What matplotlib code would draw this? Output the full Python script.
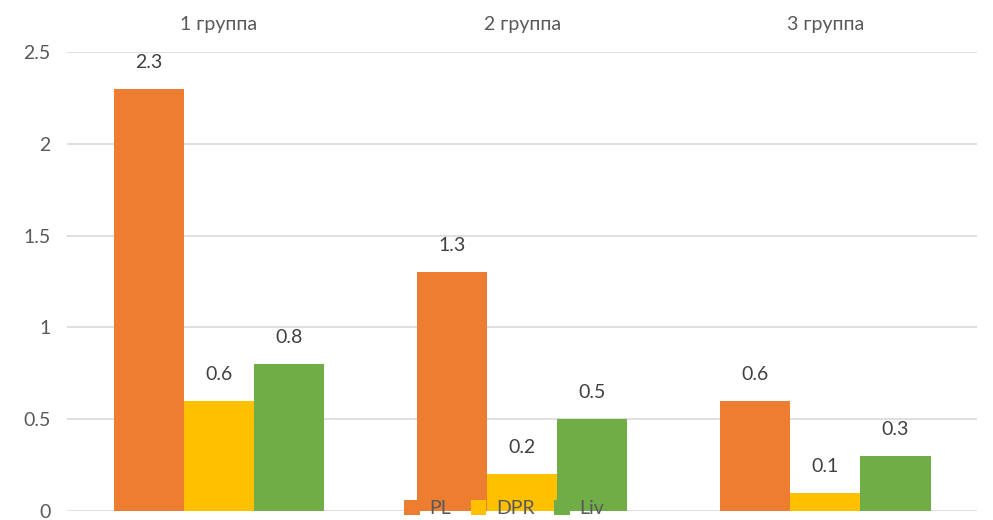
import numpy as np
import matplotlib.pyplot as plt

groups = ["1 группа", "2 группа", "3 группа"]
series = ["PL", "DPR", "Liv"]
pl = [2.3, 1.3, 0.6]
dpr = [0.6, 0.2, 0.1]
liv = [0.8, 0.5, 0.3]
colors = ["#ED7D31", "#FFC000", "#70AD47"]

plt.rcParams["font.family"] = ["Lato", "DejaVu Sans"]

fig = plt.figure(figsize=(9.93, 5.2), dpi=100)
ax = fig.add_axes([0.0675, 0.0173, 0.9165, 0.8827])

x = np.arange(len(groups))
w = 0.231
for i, (vals, name) in enumerate(zip([pl, dpr, liv], series)):
    bars = ax.bar(x + (i - 1) * w, vals, w, color=colors[i], label=name, zorder=2)
    for b, v in zip(bars, vals):
        ax.annotate(f"{v:g}", (b.get_x() + b.get_width() / 2, v),
                    xytext=(0, 13), textcoords="offset points",
                    ha="center", va="bottom", fontsize=14, color="#404040")

ax.set_xlim(-0.5, 2.5)
ax.set_ylim(0, 2.5)
ax.set_yticks([0, 0.5, 1, 1.5, 2, 2.5])
ax.set_yticklabels(["0", "0.5", "1", "1.5", "2", "2.5"])
ax.grid(axis="y", color="#D9D9D9", linewidth=1.2, zorder=0)
ax.set_xticks(x)
ax.set_xticklabels(groups)
ax.xaxis.set_ticks_position("top")
ax.tick_params(axis="x", length=0, pad=14, labelsize=14, labelcolor="#595959")
ax.tick_params(axis="y", length=0, pad=12, labelsize=14, labelcolor="#595959")
for s in ax.spines.values():
    s.set_visible(False)

leg = fig.legend(loc="center", bbox_to_anchor=(0.508, 0.022), ncol=3, frameon=False,
                 fontsize=14, handlelength=0.8, handleheight=0.8,
                 handletextpad=0.5, columnspacing=1.0, borderpad=0)
for t in leg.get_texts():
    t.set_color("#595959")
leg.set_zorder(5)

fig.savefig("out.png", dpi=100)
